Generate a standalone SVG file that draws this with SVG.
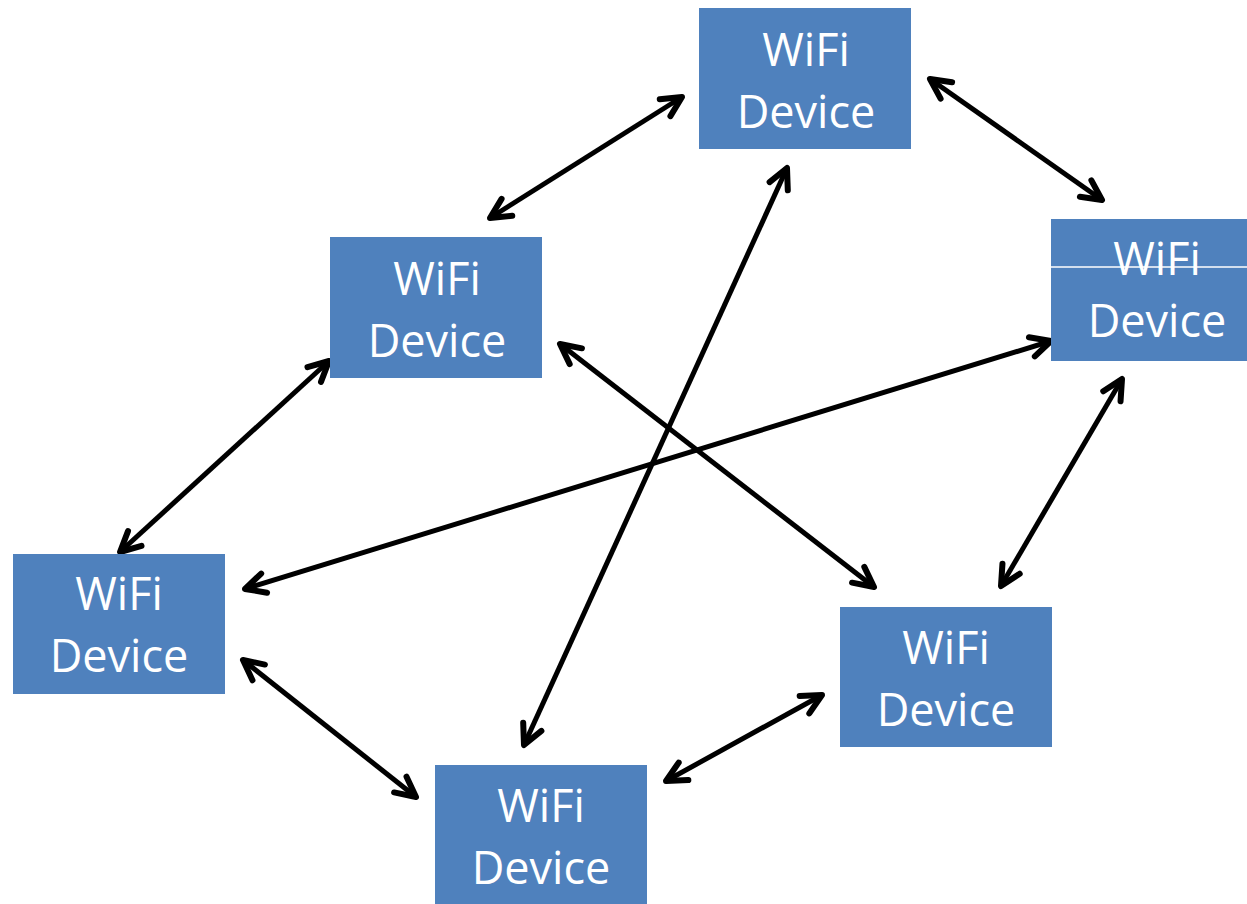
<svg xmlns="http://www.w3.org/2000/svg" width="1247" height="904" viewBox="0 0 1247 904">
<style>
.box{fill:#4F81BD}
.lbl{fill:#FFFFFF;font-family:"Open Sans","Noto Sans",sans-serif;font-size:45px;text-anchor:middle}
.con{stroke:#000;stroke-width:5;fill:none;marker-start:url(#ah);marker-end:url(#ah)}
</style>
<defs>
<marker id="ah" markerUnits="userSpaceOnUse" viewBox="-26 -14 30 28" refX="0" refY="0" markerWidth="30" markerHeight="28" orient="auto-start-reverse" overflow="visible">
<path d="M-20,-10 L0,0 L-20,10" fill="none" stroke="#000" stroke-width="6" stroke-linecap="round" stroke-linejoin="round"/>
</marker>
</defs>
<rect width="1247" height="904" fill="#FFFFFF"/>
<g id="connectors">
<line class="con" x1="490" y1="218" x2="682" y2="97"/>
<line class="con" x1="930" y1="79" x2="1102" y2="200"/>
<line class="con" x1="787" y1="168" x2="524" y2="745"/>
<line class="con" x1="560" y1="344" x2="874" y2="587"/>
<line class="con" x1="1051" y1="341" x2="245" y2="589"/>
<line class="con" x1="1122" y1="379" x2="1001" y2="586"/>
<line class="con" x1="329" y1="361" x2="120" y2="552"/>
<line class="con" x1="243" y1="660" x2="416" y2="797"/>
<line class="con" x1="822" y1="695" x2="666" y2="781"/>
</g>
<g id="node-top">
<rect class="box" x="699" y="8" width="212" height="141"/>
<text class="lbl" x="806" y="66">WiFi</text>
<text class="lbl" x="806" y="128">Device</text>
</g>
<g id="node-midleft">
<rect class="box" x="330" y="237" width="212" height="141"/>
<text class="lbl" x="437" y="295">WiFi</text>
<text class="lbl" x="437" y="357">Device</text>
</g>
<g id="node-right">
<rect class="box" x="1051" y="219" width="196" height="142"/>
<text class="lbl" x="1157" y="275">WiFi</text>
<text class="lbl" x="1157" y="337">Device</text>
<line x1="1051" y1="267" x2="1247" y2="267" stroke="#FFFFFF" stroke-width="1.5"/>
</g>
<g id="node-left">
<rect class="box" x="13" y="554" width="212" height="140"/>
<text class="lbl" x="119" y="610">WiFi</text>
<text class="lbl" x="119" y="672">Device</text>
</g>
<g id="node-bottomright">
<rect class="box" x="840" y="607" width="212" height="140"/>
<text class="lbl" x="946" y="664">WiFi</text>
<text class="lbl" x="946" y="726">Device</text>
</g>
<g id="node-bottom">
<rect class="box" x="435" y="765" width="212" height="139"/>
<text class="lbl" x="541" y="822">WiFi</text>
<text class="lbl" x="541" y="884">Device</text>
</g>
</svg>
